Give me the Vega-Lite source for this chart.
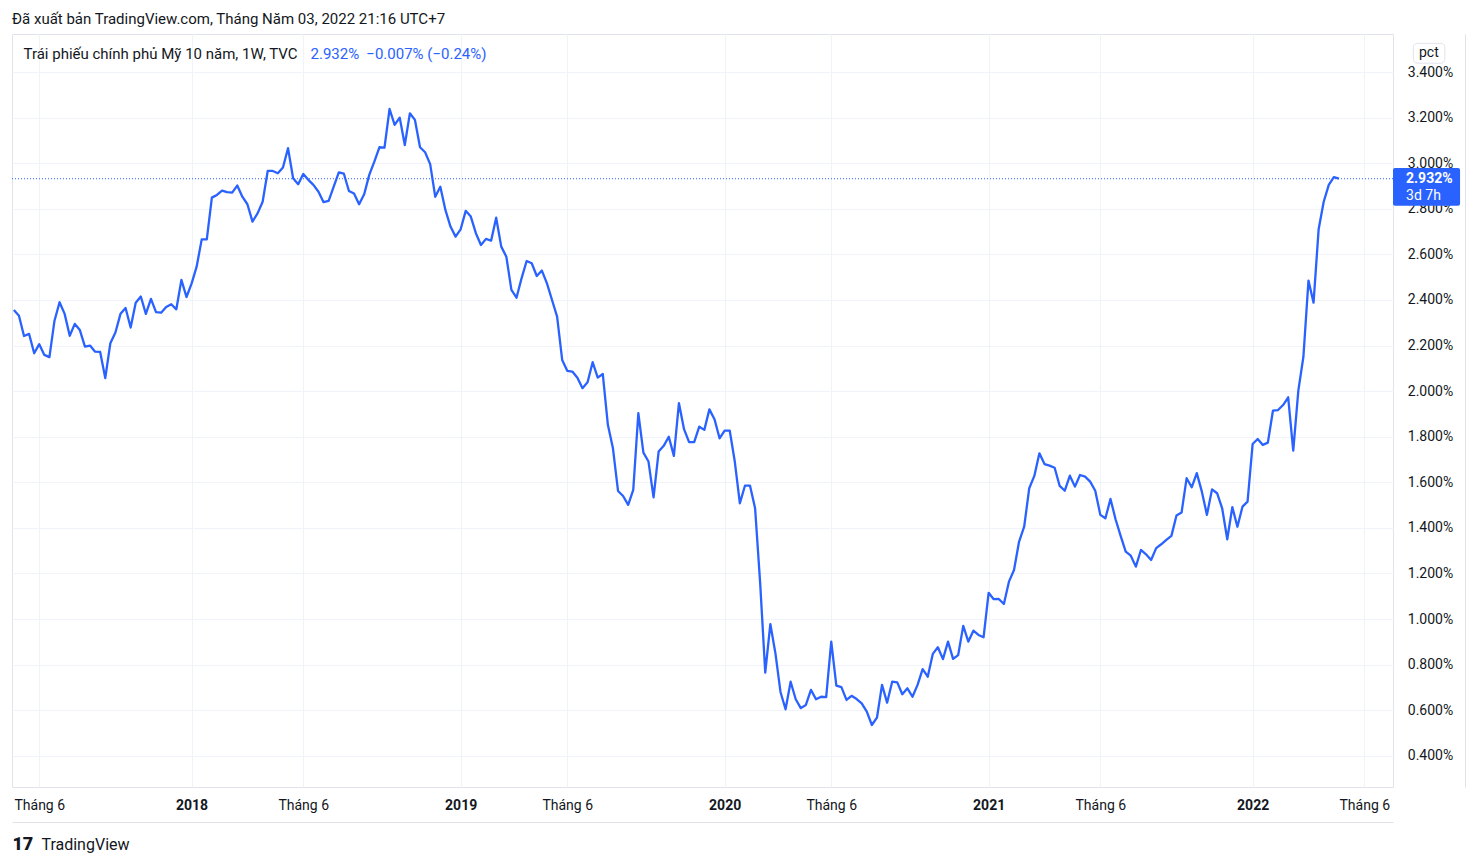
{
  "$schema": "https://vega.github.io/schema/vega-lite/v6.json",
  "width": 1381,
  "height": 753,
  "autosize": {"type": "none"},
  "padding": {"left": 12, "top": 34, "right": 85, "bottom": 79},
  "background": "white",
  "config": {"font": "Roboto", "view": {"stroke": "#e0e3eb", "strokeWidth": 1}},
  "title": {"text": "Đã xuất bản TradingView.com, Tháng Năm 03, 2022 21:16 UTC+7", "anchor": "start", "frame": "group", "fontSize": 15, "fontWeight": "normal", "color": "#131722", "font": "Roboto", "offset": 7},
  "layer": [
    {
      "data": {"values": [
        {"d":"2017-05-01","v":2.356},{"d":"2017-05-08","v":2.331},{"d":"2017-05-15","v":2.242},{"d":"2017-05-22","v":2.251},{"d":"2017-05-29","v":2.166},
        {"d":"2017-06-05","v":2.206},{"d":"2017-06-12","v":2.159},{"d":"2017-06-19","v":2.149},{"d":"2017-06-26","v":2.309},{"d":"2017-07-03","v":2.390},
        {"d":"2017-07-10","v":2.339},{"d":"2017-07-17","v":2.243},{"d":"2017-07-24","v":2.295},{"d":"2017-07-31","v":2.268},{"d":"2017-08-07","v":2.195},
        {"d":"2017-08-14","v":2.200},{"d":"2017-08-21","v":2.173},{"d":"2017-08-28","v":2.172},{"d":"2017-09-04","v":2.057},{"d":"2017-09-11","v":2.210},
        {"d":"2017-09-18","v":2.257},{"d":"2017-09-25","v":2.339},{"d":"2017-10-02","v":2.365},{"d":"2017-10-09","v":2.279},{"d":"2017-10-16","v":2.388},
        {"d":"2017-10-23","v":2.415},{"d":"2017-10-30","v":2.339},{"d":"2017-11-06","v":2.405},{"d":"2017-11-13","v":2.347},{"d":"2017-11-20","v":2.344},
        {"d":"2017-11-27","v":2.369},{"d":"2017-12-04","v":2.381},{"d":"2017-12-11","v":2.359},{"d":"2017-12-18","v":2.488},{"d":"2017-12-25","v":2.413},
        {"d":"2018-01-01","v":2.472},{"d":"2018-01-08","v":2.546},{"d":"2018-01-15","v":2.666},{"d":"2018-01-22","v":2.666},{"d":"2018-01-29","v":2.849},
        {"d":"2018-02-05","v":2.861},{"d":"2018-02-12","v":2.880},{"d":"2018-02-19","v":2.873},{"d":"2018-02-26","v":2.871},{"d":"2018-03-05","v":2.902},
        {"d":"2018-03-12","v":2.853},{"d":"2018-03-19","v":2.820},{"d":"2018-03-26","v":2.744},{"d":"2018-04-02","v":2.780},{"d":"2018-04-09","v":2.831},
        {"d":"2018-04-16","v":2.966},{"d":"2018-04-23","v":2.966},{"d":"2018-04-30","v":2.956},{"d":"2018-05-07","v":2.981},{"d":"2018-05-14","v":3.066},
        {"d":"2018-05-21","v":2.934},{"d":"2018-05-28","v":2.908},{"d":"2018-06-04","v":2.953},{"d":"2018-06-11","v":2.927},{"d":"2018-06-18","v":2.905},
        {"d":"2018-06-25","v":2.875},{"d":"2018-07-02","v":2.829},{"d":"2018-07-09","v":2.835},{"d":"2018-07-16","v":2.897},{"d":"2018-07-23","v":2.960},
        {"d":"2018-07-30","v":2.954},{"d":"2018-08-06","v":2.878},{"d":"2018-08-13","v":2.867},{"d":"2018-08-20","v":2.820},{"d":"2018-08-27","v":2.864},
        {"d":"2018-09-03","v":2.949},{"d":"2018-09-10","v":3.007},{"d":"2018-09-17","v":3.070},{"d":"2018-09-24","v":3.068},{"d":"2018-10-01","v":3.238},
        {"d":"2018-10-08","v":3.168},{"d":"2018-10-15","v":3.200},{"d":"2018-10-22","v":3.080},{"d":"2018-10-29","v":3.219},{"d":"2018-11-05","v":3.190},
        {"d":"2018-11-12","v":3.070},{"d":"2018-11-19","v":3.048},{"d":"2018-11-26","v":2.996},{"d":"2018-12-03","v":2.853},{"d":"2018-12-10","v":2.897},
        {"d":"2018-12-17","v":2.795},{"d":"2018-12-24","v":2.722},{"d":"2018-12-31","v":2.678},
        {"d":"2019-01-07","v":2.710},{"d":"2019-01-14","v":2.791},{"d":"2019-01-21","v":2.766},{"d":"2019-01-28","v":2.693},{"d":"2019-02-04","v":2.641},
        {"d":"2019-02-11","v":2.668},{"d":"2019-02-18","v":2.660},{"d":"2019-02-25","v":2.761},{"d":"2019-03-04","v":2.634},{"d":"2019-03-11","v":2.590},
        {"d":"2019-03-18","v":2.444},{"d":"2019-03-25","v":2.410},{"d":"2019-04-01","v":2.495},{"d":"2019-04-08","v":2.571},{"d":"2019-04-15","v":2.561},
        {"d":"2019-04-22","v":2.505},{"d":"2019-04-29","v":2.529},{"d":"2019-05-06","v":2.473},{"d":"2019-05-13","v":2.400},{"d":"2019-05-20","v":2.327},
        {"d":"2019-05-27","v":2.137},{"d":"2019-06-03","v":2.089},{"d":"2019-06-10","v":2.086},{"d":"2019-06-17","v":2.059},{"d":"2019-06-24","v":2.013},
        {"d":"2019-07-01","v":2.039},{"d":"2019-07-08","v":2.127},{"d":"2019-07-15","v":2.059},{"d":"2019-07-22","v":2.075},{"d":"2019-07-29","v":1.852},
        {"d":"2019-08-05","v":1.749},{"d":"2019-08-12","v":1.562},{"d":"2019-08-19","v":1.540},{"d":"2019-08-26","v":1.501},{"d":"2019-09-02","v":1.567},
        {"d":"2019-09-09","v":1.903},{"d":"2019-09-16","v":1.730},{"d":"2019-09-23","v":1.691},{"d":"2019-09-30","v":1.534},{"d":"2019-10-07","v":1.735},
        {"d":"2019-10-14","v":1.760},{"d":"2019-10-21","v":1.800},{"d":"2019-10-28","v":1.716},{"d":"2019-11-04","v":1.947},{"d":"2019-11-11","v":1.833},
        {"d":"2019-11-18","v":1.776},{"d":"2019-11-25","v":1.776},{"d":"2019-12-02","v":1.844},{"d":"2019-12-09","v":1.830},{"d":"2019-12-16","v":1.920},
        {"d":"2019-12-23","v":1.877},{"d":"2019-12-30","v":1.793},
        {"d":"2020-01-06","v":1.827},{"d":"2020-01-13","v":1.827},{"d":"2020-01-20","v":1.691},{"d":"2020-01-27","v":1.508},{"d":"2020-02-03","v":1.585},
        {"d":"2020-02-10","v":1.585},{"d":"2020-02-17","v":1.486},{"d":"2020-02-24","v":1.157},{"d":"2020-03-02","v":0.765},{"d":"2020-03-09","v":0.978},
        {"d":"2020-03-16","v":0.850},{"d":"2020-03-23","v":0.680},{"d":"2020-03-30","v":0.604},{"d":"2020-04-06","v":0.725},{"d":"2020-04-13","v":0.648},
        {"d":"2020-04-20","v":0.609},{"d":"2020-04-27","v":0.623},{"d":"2020-05-04","v":0.689},{"d":"2020-05-11","v":0.648},{"d":"2020-05-18","v":0.659},
        {"d":"2020-05-25","v":0.657},{"d":"2020-06-01","v":0.901},{"d":"2020-06-08","v":0.708},{"d":"2020-06-15","v":0.701},{"d":"2020-06-22","v":0.645},
        {"d":"2020-06-29","v":0.663},{"d":"2020-07-06","v":0.649},{"d":"2020-07-13","v":0.630},{"d":"2020-07-20","v":0.594},{"d":"2020-07-27","v":0.535},
        {"d":"2020-08-03","v":0.567},{"d":"2020-08-10","v":0.711},{"d":"2020-08-17","v":0.633},{"d":"2020-08-24","v":0.725},{"d":"2020-08-31","v":0.722},
        {"d":"2020-09-07","v":0.670},{"d":"2020-09-14","v":0.696},{"d":"2020-09-21","v":0.659},{"d":"2020-09-28","v":0.711},{"d":"2020-10-05","v":0.780},
        {"d":"2020-10-12","v":0.747},{"d":"2020-10-19","v":0.847},{"d":"2020-10-26","v":0.876},{"d":"2020-11-02","v":0.824},{"d":"2020-11-09","v":0.901},
        {"d":"2020-11-16","v":0.825},{"d":"2020-11-23","v":0.842},{"d":"2020-11-30","v":0.970},{"d":"2020-12-07","v":0.901},{"d":"2020-12-14","v":0.949},
        {"d":"2020-12-21","v":0.930},{"d":"2020-12-28","v":0.920},
        {"d":"2021-01-04","v":1.115},{"d":"2021-01-11","v":1.087},{"d":"2021-01-18","v":1.088},{"d":"2021-01-25","v":1.066},{"d":"2021-02-01","v":1.164},
        {"d":"2021-02-08","v":1.215},{"d":"2021-02-15","v":1.340},{"d":"2021-02-22","v":1.405},{"d":"2021-03-01","v":1.574},{"d":"2021-03-08","v":1.628},
        {"d":"2021-03-15","v":1.727},{"d":"2021-03-22","v":1.680},{"d":"2021-03-29","v":1.673},{"d":"2021-04-05","v":1.664},{"d":"2021-04-12","v":1.584},
        {"d":"2021-04-19","v":1.563},{"d":"2021-04-26","v":1.629},{"d":"2021-05-03","v":1.581},{"d":"2021-05-10","v":1.632},{"d":"2021-05-17","v":1.625},
        {"d":"2021-05-24","v":1.603},{"d":"2021-05-31","v":1.563},{"d":"2021-06-07","v":1.457},{"d":"2021-06-14","v":1.442},{"d":"2021-06-21","v":1.527},
        {"d":"2021-06-28","v":1.438},{"d":"2021-07-05","v":1.365},{"d":"2021-07-12","v":1.296},{"d":"2021-07-19","v":1.278},{"d":"2021-07-26","v":1.230},
        {"d":"2021-08-02","v":1.303},{"d":"2021-08-09","v":1.284},{"d":"2021-08-16","v":1.259},{"d":"2021-08-23","v":1.311},{"d":"2021-08-30","v":1.328},
        {"d":"2021-09-06","v":1.347},{"d":"2021-09-13","v":1.365},{"d":"2021-09-20","v":1.454},{"d":"2021-09-27","v":1.467},{"d":"2021-10-04","v":1.618},
        {"d":"2021-10-11","v":1.578},{"d":"2021-10-18","v":1.640},{"d":"2021-10-25","v":1.559},{"d":"2021-11-01","v":1.457},{"d":"2021-11-08","v":1.569},
        {"d":"2021-11-15","v":1.552},{"d":"2021-11-22","v":1.486},{"d":"2021-11-29","v":1.350},{"d":"2021-12-06","v":1.491},{"d":"2021-12-13","v":1.405},
        {"d":"2021-12-20","v":1.493},{"d":"2021-12-27","v":1.515},
        {"d":"2022-01-03","v":1.768},{"d":"2022-01-10","v":1.790},{"d":"2022-01-17","v":1.764},{"d":"2022-01-24","v":1.774},{"d":"2022-01-31","v":1.914},
        {"d":"2022-02-07","v":1.917},{"d":"2022-02-14","v":1.939},{"d":"2022-02-21","v":1.973},{"d":"2022-02-28","v":1.739},{"d":"2022-03-07","v":2.002},
        {"d":"2022-03-14","v":2.151},{"d":"2022-03-21","v":2.485},{"d":"2022-03-28","v":2.388},{"d":"2022-04-04","v":2.710},{"d":"2022-04-11","v":2.831},
        {"d":"2022-04-18","v":2.905},{"d":"2022-04-25","v":2.939},{"d":"2022-05-02","v":2.932}
      ]},
      "mark": {"type": "line", "color": "#2962ff", "strokeWidth": 2.3, "strokeJoin": "round"},
      "encoding": {
        "x": {"field": "d", "type": "temporal",
          "scale": {"type": "utc", "domain": [{"year": 2017, "month": 4, "date": 28, "hours": 10, "utc": true}, {"year": 2022, "month": 7, "date": 15, "hours": 13, "utc": true}]},
          "axis": {"title": null,
            "values": [{"year":2017,"month":6,"date":5,"utc":true},{"year":2018,"month":1,"date":1,"utc":true},{"year":2018,"month":6,"date":4,"utc":true},{"year":2019,"month":1,"date":7,"utc":true},{"year":2019,"month":6,"date":3,"utc":true},{"year":2020,"month":1,"date":6,"utc":true},{"year":2020,"month":6,"date":1,"utc":true},{"year":2021,"month":1,"date":4,"utc":true},{"year":2021,"month":6,"date":7,"utc":true},{"year":2022,"month":1,"date":3,"utc":true},{"year":2022,"month":6,"date":6,"utc":true}],
            "labelExpr": "utcmonth(datum.value) == 0 ? utcFormat(datum.value, '%Y') : 'Tháng ' + (utcmonth(datum.value) + 1)",
            "labelFontWeight": {"condition": {"test": "utcmonth(datum.value) == 0", "value": "bold"}, "value": "normal"},
            "grid": true, "gridColor": "#f0f3fa", "gridWidth": 1,
            "ticks": false, "domain": true, "domainColor": "#e0e3eb", "offset": 35,
            "labelPadding": -24, "labelFontSize": 14, "labelColor": "#131722", "labelFont": "Roboto",
            "labelFlush": false, "labelOverlap": false}},
        "y": {"field": "v", "type": "quantitative",
          "scale": {"domain": [0.263, 3.567], "nice": false, "zero": false},
          "axis": {"title": null, "orient": "right",
            "values": [0.4, 0.6, 0.8, 1.0, 1.2, 1.4, 1.6, 1.8, 2.0, 2.2, 2.4, 2.6, 2.8, 3.0, 3.2, 3.4],
            "labelExpr": "format(datum.value, '.3f') + '%'",
            "grid": true, "gridColor": "#f0f3fa", "gridWidth": 1,
            "ticks": false, "domain": true, "domainColor": "#e0e3eb", "offset": 72,
            "labelPadding": -35, "labelAlign": "center", "labelBaseline": "middle",
            "labelFontSize": 14, "labelColor": "#131722", "labelFont": "Roboto", "labelOverlap": false}}
      }
    },
    {
      "data": {"values": [{"last": 2.932}]},
      "mark": {"type": "rule", "color": "#2962ff", "strokeWidth": 1, "strokeDash": [1, 2]},
      "encoding": {"y": {"field": "last", "type": "quantitative"}}
    },
    {
      "data": {"values": [{}]},
      "mark": {"type": "rect", "fill": "#2962ff", "cornerRadius": 2, "clip": false},
      "encoding": {
        "x": {"datum": {"year": 2022, "month": 7, "date": 15, "hours": 13, "utc": true}, "type": "temporal"},
        "x2": {"datum": {"year": 2022, "month": 10, "date": 16, "utc": true}},
        "y": {"datum": 2.979, "type": "quantitative"},
        "y2": {"datum": 2.813}
      }
    },
    {
      "data": {"values": [{}]},
      "mark": {"type": "text", "text": "2.932%", "color": "white", "fontSize": 14, "fontWeight": "bold", "align": "left", "baseline": "middle", "font": "Roboto", "clip": false},
      "encoding": {
        "x": {"datum": {"year": 2022, "month": 8, "date": 2, "hours": 12, "utc": true}, "type": "temporal"},
        "y": {"datum": 2.931, "type": "quantitative"}
      }
    },
    {
      "data": {"values": [{}]},
      "mark": {"type": "text", "text": "3d 7h", "color": "white", "fontSize": 14, "align": "left", "baseline": "middle", "font": "Roboto", "clip": false},
      "encoding": {
        "x": {"datum": {"year": 2022, "month": 8, "date": 2, "hours": 12, "utc": true}, "type": "temporal"},
        "y": {"datum": 2.856, "type": "quantitative"}
      }
    },
    {
      "data": {"values": [{}]},
      "mark": {"type": "rect", "fill": "white", "stroke": "#e0e3eb", "strokeWidth": 1, "cornerRadius": 4, "clip": false},
      "encoding": {
        "x": {"datum": {"year": 2022, "month": 8, "date": 12, "hours": 14, "utc": true}, "type": "temporal"},
        "x2": {"datum": {"year": 2022, "month": 9, "date": 25, "utc": true}},
        "y": {"datum": 3.526, "type": "quantitative"},
        "y2": {"datum": 3.439}
      }
    },
    {
      "data": {"values": [{}]},
      "mark": {"type": "text", "text": "pct", "color": "#131722", "fontSize": 14, "align": "center", "baseline": "middle", "font": "Roboto", "clip": false},
      "encoding": {
        "x": {"datum": {"year": 2022, "month": 9, "date": 3, "utc": true}, "type": "temporal"},
        "y": {"datum": 3.483, "type": "quantitative"}
      }
    },
    {
      "data": {"values": [{}]},
      "mark": {"type": "text", "text": "Trái phiếu chính phủ Mỹ 10 năm, 1W, TVC", "color": "#131722", "fontSize": 15, "align": "left", "baseline": "middle", "font": "Roboto"},
      "encoding": {
        "x": {"datum": {"year": 2017, "month": 5, "date": 14, "hours": 7, "utc": true}, "type": "temporal"},
        "y": {"datum": 3.480, "type": "quantitative"}
      }
    },
    {
      "data": {"values": [{}]},
      "mark": {"type": "text", "text": "2.932%", "color": "#2962ff", "fontSize": 15, "align": "left", "baseline": "middle", "font": "Roboto"},
      "encoding": {
        "x": {"datum": {"year": 2018, "month": 6, "date": 14, "utc": true}, "type": "temporal"},
        "y": {"datum": 3.480, "type": "quantitative"}
      }
    },
    {
      "data": {"values": [{}]},
      "mark": {"type": "text", "text": "−0.007% (−0.24%)", "color": "#2962ff", "fontSize": 15, "align": "left", "baseline": "middle", "font": "Roboto"},
      "encoding": {
        "x": {"datum": {"year": 2018, "month": 8, "date": 30, "utc": true}, "type": "temporal"},
        "y": {"datum": 3.480, "type": "quantitative"}
      }
    },
    {
      "data": {"values": [{}]},
      "mark": {"type": "text", "text": "17", "color": "#131722", "fontSize": 18, "fontWeight": 900, "align": "left", "baseline": "middle", "font": "Roboto", "clip": false},
      "encoding": {
        "x": {"datum": {"year": 2017, "month": 4, "date": 29, "utc": true}, "type": "temporal"},
        "y": {"datum": 0.009, "type": "quantitative"}
      }
    },
    {
      "data": {"values": [{}]},
      "mark": {"type": "text", "text": "TradingView", "color": "#131722", "fontSize": 16, "align": "left", "baseline": "middle", "font": "Roboto", "clip": false},
      "encoding": {
        "x": {"datum": {"year": 2017, "month": 6, "date": 8, "utc": true}, "type": "temporal"},
        "y": {"datum": 0.009, "type": "quantitative"}
      }
    }
  ]
}
